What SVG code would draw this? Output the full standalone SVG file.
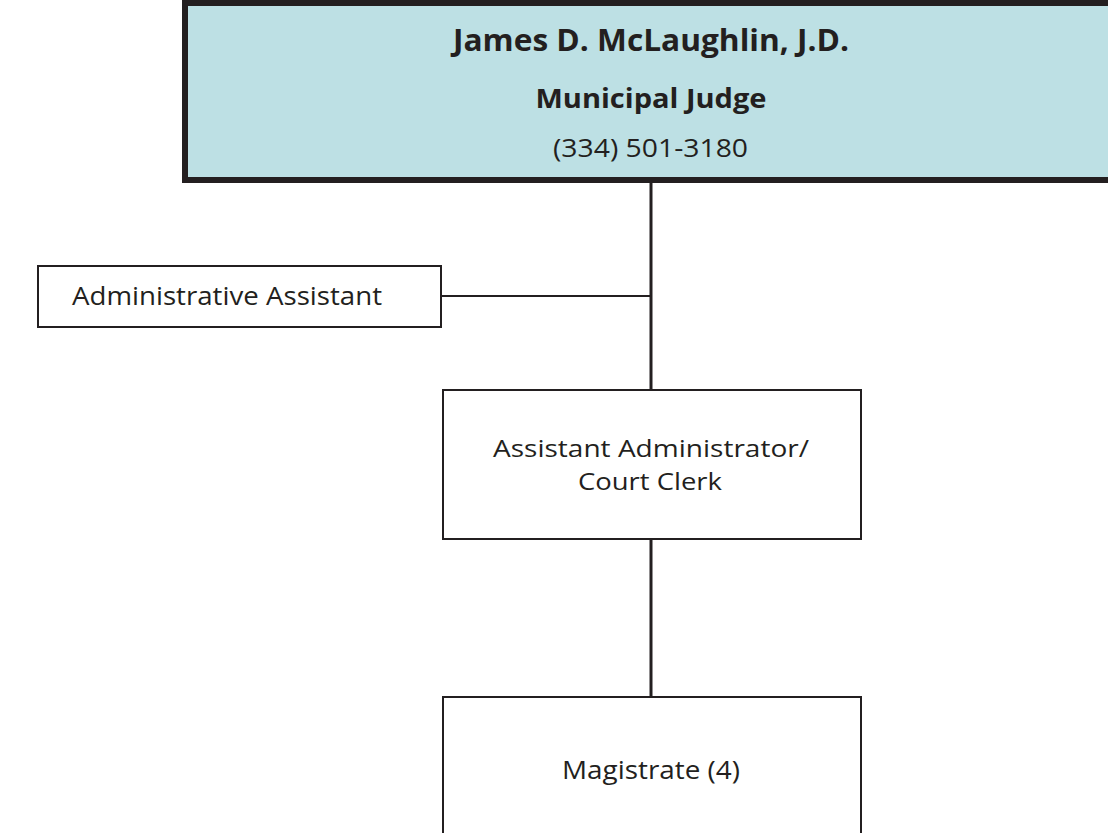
<svg xmlns="http://www.w3.org/2000/svg" width="1108" height="833" viewBox="0 0 1108 833">
<style>
.box{fill:#fff;stroke:#231f20;stroke-width:2}
.t{font-family:"Open Sans","Noto Sans",sans-serif;font-size:26px;fill:#231f20;text-anchor:middle}
.s{font-size:24px}
.b{font-weight:bold}
.big{font-size:30px}
.c{stroke:#231f20;fill:none}
</style>
<rect width="1108" height="833" fill="#fff"/>
<g id="connectors">
<line class="c" x1="651" y1="182" x2="651" y2="390" stroke-width="3"/>
<line class="c" x1="441" y1="296" x2="651" y2="296" stroke-width="2"/>
<line class="c" x1="651" y1="539" x2="651" y2="697" stroke-width="3"/>
</g>
<g id="judge">
<rect x="185" y="3" width="930" height="177" fill="#bde0e4" stroke="#231f20" stroke-width="6"/>
<text class="t b big" x="651" y="51" textLength="396" lengthAdjust="spacingAndGlyphs">James D. McLaughlin, J.D.</text>
<text class="t b" x="651" y="108" textLength="231" lengthAdjust="spacingAndGlyphs">Municipal Judge</text>
<text class="t" x="650.5" y="157" textLength="195" lengthAdjust="spacingAndGlyphs">(334) 501-3180</text>
</g>
<g id="admin-assistant">
<rect class="box" x="38" y="266" width="403" height="61"/>
<text class="t" x="227" y="305" textLength="310" lengthAdjust="spacingAndGlyphs">Administrative Assistant</text>
</g>
<g id="court-clerk">
<rect class="box" x="443" y="390" width="418" height="149"/>
<text class="t s" x="651" y="457" textLength="316" lengthAdjust="spacingAndGlyphs">Assistant Administrator/</text>
<text class="t s" x="650" y="490" textLength="144" lengthAdjust="spacingAndGlyphs">Court Clerk</text>
</g>
<g id="magistrate">
<rect class="box" x="443" y="697" width="418" height="150"/>
<text class="t" x="651" y="779" textLength="178" lengthAdjust="spacingAndGlyphs">Magistrate (4)</text>
</g>
</svg>
